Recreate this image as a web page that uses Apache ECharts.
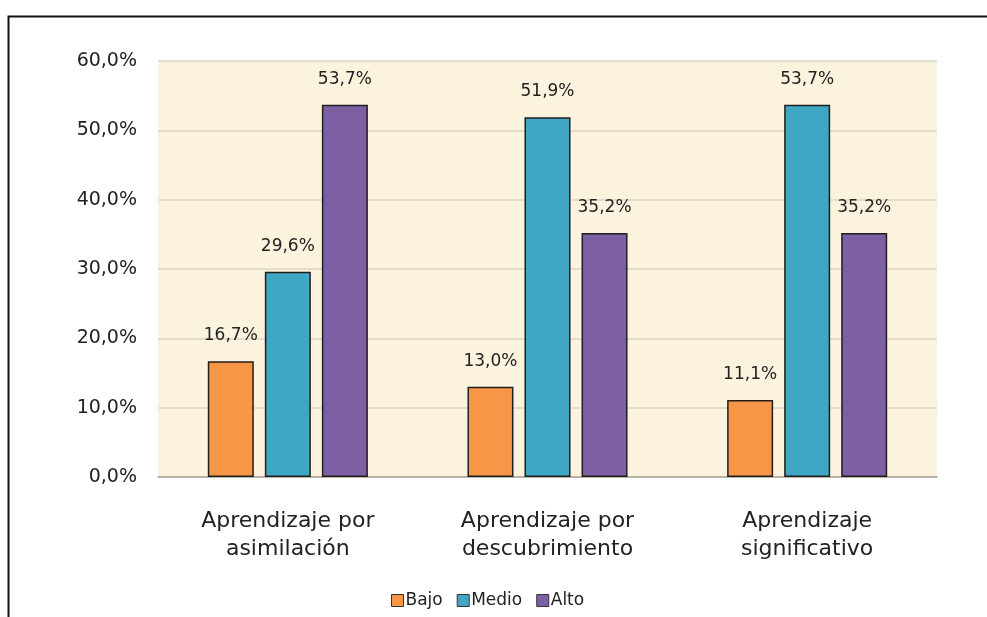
<!DOCTYPE html>
<html>
<head>
<meta charset="utf-8">
<style>
  html, body { margin: 0; padding: 0; background: #ffffff; }
  #chart { width: 987px; height: 617px; }
</style>
<script src="https://cdn.jsdelivr.net/npm/echarts@6/dist/echarts.min.js"></script>
</head>
<body>
<div id="chart"></div>
<script>
// Categories (x axis) and the three level series, in percent
const categories = ['Aprendizaje por\nasimilación', 'Aprendizaje por\ndescubrimiento', 'Aprendizaje\nsignificativo'];
const seriesNames = ['Bajo', 'Medio', 'Alto'];
const bajo = [16.7, 13.0, 11.1];
const medio = [29.6, 51.9, 53.7];
const alto = [53.7, 35.2, 35.2];
const yTicks = [0, 10, 20, 30, 40, 50, 60];

const colors = ['#f79646', '#3fa7c4', '#7d5fa3'];
const fontFamily = '"DejaVu Sans", Verdana, sans-serif';

function pct(v) {
  return v.toFixed(1).replace('.', ',') + '%';
}

const chart = echarts.init(document.getElementById('chart'), null, { renderer: 'canvas' });

function barSeries(name, data, color) {
  return {
    name: name,
    type: 'bar',
    data: data,
    barWidth: 46,
    barGap: '24%',
    itemStyle: { color: color, borderColor: '#1f1f1f', borderWidth: 1.5 },
    label: {
      show: true,
      position: 'top',
      distance: 17,
      formatter: p => pct(p.value),
      color: '#222',
      fontSize: 17,
      fontFamily: fontFamily
    }
  };
}

chart.setOption({
  animation: false,
  backgroundColor: '#ffffff',
  color: colors,
  graphic: [
    {
      type: 'rect',
      shape: { x: 8.5, y: 16.5, width: 1000, height: 700 },
      style: { fill: 'none', stroke: '#111', lineWidth: 2 },
      z: -1
    }
  ],
  grid: {
    left: 158, right: 50, top: 61, bottom: 140,
    show: true,
    backgroundColor: '#fcf3de',
    borderWidth: 0
  },
  legend: {
    data: seriesNames,
    bottom: 3,
    left: 386,
    itemWidth: 12,
    itemHeight: 12,
    itemGap: 14,
    icon: 'rect',
    itemStyle: { borderColor: '#333', borderWidth: 1 },
    textStyle: { fontSize: 17, color: '#222', fontFamily: fontFamily, padding: [0, 0, 0, -3] }
  },
  xAxis: {
    type: 'category',
    data: categories,
    axisLine: { show: true, lineStyle: { color: '#a9a49a', width: 1.5 } },
    axisTick: { show: false },
    axisLabel: {
      interval: 0,
      margin: 30,
      fontSize: 22,
      lineHeight: 28,
      color: '#222',
      fontFamily: fontFamily
    }
  },
  yAxis: {
    type: 'value',
    min: yTicks[0],
    max: yTicks[yTicks.length - 1],
    interval: yTicks[1] - yTicks[0],
    axisLine: { show: false },
    axisTick: { show: false },
    splitLine: { lineStyle: { color: '#dcd6c8', width: 1.5 } },
    axisLabel: {
      margin: 21,
      fontSize: 19,
      color: '#222',
      fontFamily: fontFamily,
      formatter: v => pct(v)
    }
  },
  series: [
    barSeries(seriesNames[0], bajo, colors[0]),
    barSeries(seriesNames[1], medio, colors[1]),
    barSeries(seriesNames[2], alto, colors[2])
  ]
});
</script>
</body>
</html>
